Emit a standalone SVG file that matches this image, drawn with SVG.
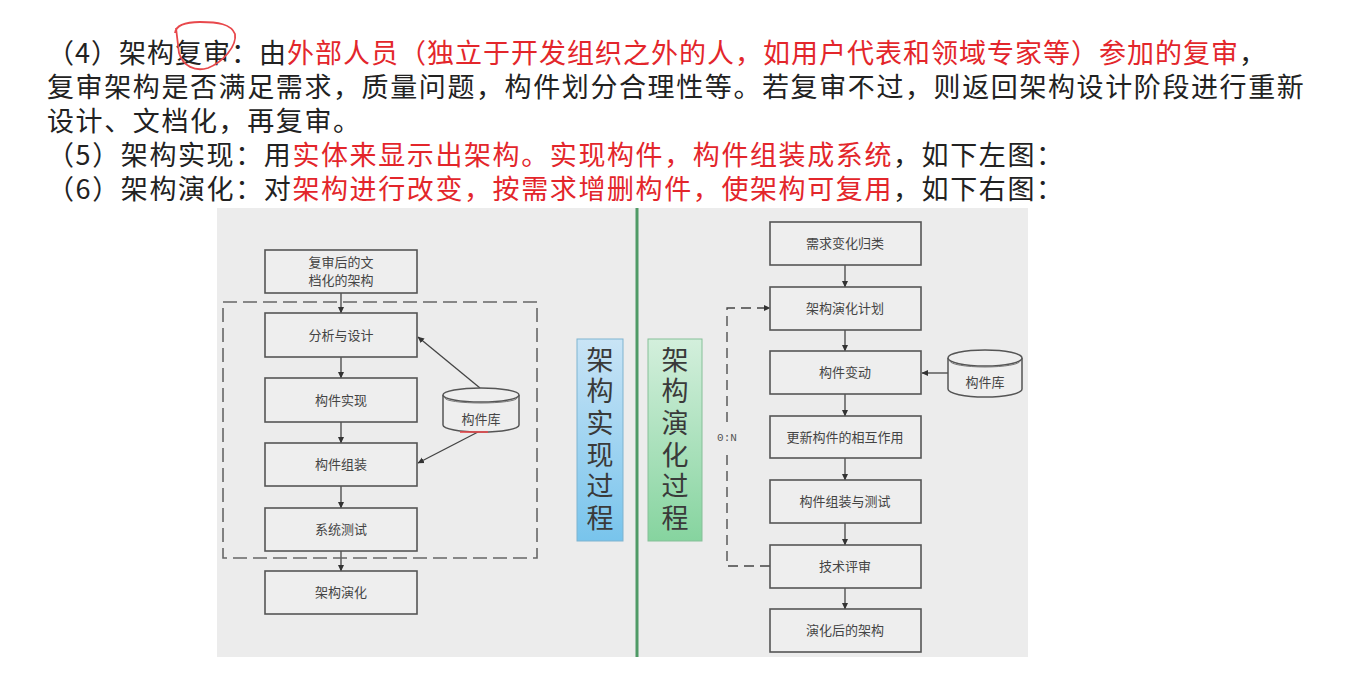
<svg xmlns="http://www.w3.org/2000/svg" width="1361" height="675" viewBox="0 0 1361 675">
<style>
.t{font-family:"Noto Sans CJK SC","Noto Sans",sans-serif;font-size:27px;letter-spacing:1.6px;fill:#222}
.r{fill:#e3262b}
.box{fill:#eeeeee;stroke:#555;stroke-width:1.6}
.bt{font-family:"Noto Sans CJK SC","Noto Sans",sans-serif;font-size:13px;fill:#444;text-anchor:middle}
.ln{stroke:#444;stroke-width:1.3;fill:none}
.vt{font-family:"Noto Sans CJK SC","Noto Sans",sans-serif;font-size:27px;fill:#3a3a3a;writing-mode:vertical-rl;letter-spacing:4.6px}
.cyl{fill:#eeeeee;stroke:#555;stroke-width:1.5}
</style>
<defs>
<marker id="ah" markerWidth="7" markerHeight="7" refX="6" refY="3.5" orient="auto" markerUnits="userSpaceOnUse">
<path d="M0,0.5 L6.5,3.5 L0,6.5 Z" fill="#333"/>
</marker>
<linearGradient id="gb" x1="0" y1="0" x2="0" y2="1">
<stop offset="0" stop-color="#c9e4f6"/>
<stop offset="1" stop-color="#78c4ec"/>
</linearGradient>
<linearGradient id="gg" x1="0" y1="0" x2="0" y2="1">
<stop offset="0" stop-color="#d3efdc"/>
<stop offset="1" stop-color="#86d49f"/>
</linearGradient>
</defs>
<rect width="1361" height="675" fill="#ffffff"/>

<g id="text">
<text class="t" x="47" y="63" style="letter-spacing:1px">（4）架构复审：由<tspan class="r">外部人员（独立于开发组织之外的人，如用户代表和领域专家等）参加的复审</tspan>，</text>
<text class="t" x="47" y="97">复审架构是否满足需求，质量问题，构件划分合理性等。若复审不过，则返回架构设计阶段进行重新</text>
<text class="t" x="47" y="131">设计、文档化，再复审。</text>
<text class="t" x="47" y="165">（5）架构实现：用<tspan class="r">实体来显示出架构。实现构件，构件组装成系统</tspan>，如下左图：</text>
<text class="t" x="47" y="199">（6）架构演化：对<tspan class="r">架构进行改变，按需求增删构件，使架构可复用</tspan>，如下右图：</text>
<path d="M175,33 C176,25 186,22 200,22 C218,22 231,24 235,34 C237,46 223,62 208,68 C195,72 183,66 179,53 L176,28" fill="none" stroke="#e8484c" stroke-width="1.8"/>
</g>

<rect id="panel" x="217" y="208" width="811" height="449" fill="#ececec"/>
<line x1="637" y1="208" x2="637" y2="657" stroke="#4f9a66" stroke-width="3"/>

<g id="connectors">
<line class="ln" x1="341" y1="293" x2="341" y2="313" marker-end="url(#ah)"/>
<line class="ln" x1="341" y1="357" x2="341" y2="378" marker-end="url(#ah)"/>
<line class="ln" x1="341" y1="422" x2="341" y2="443" marker-end="url(#ah)"/>
<line class="ln" x1="341" y1="486" x2="341" y2="508" marker-end="url(#ah)"/>
<line class="ln" x1="341" y1="551" x2="341" y2="571" marker-end="url(#ah)"/>
<line class="ln" x1="480" y1="388" x2="418" y2="337" marker-end="url(#ah)"/>
<line class="ln" x1="478" y1="432" x2="418" y2="463" marker-end="url(#ah)"/>
<line class="ln" x1="845" y1="265" x2="845" y2="287" marker-end="url(#ah)"/>
<line class="ln" x1="845" y1="330" x2="845" y2="351" marker-end="url(#ah)"/>
<line class="ln" x1="845" y1="394" x2="845" y2="416" marker-end="url(#ah)"/>
<line class="ln" x1="845" y1="458" x2="845" y2="480" marker-end="url(#ah)"/>
<line class="ln" x1="845" y1="523" x2="845" y2="545" marker-end="url(#ah)"/>
<line class="ln" x1="845" y1="588" x2="845" y2="609" marker-end="url(#ah)"/>
<line class="ln" x1="948" y1="373" x2="922" y2="373" marker-end="url(#ah)"/>
<path class="ln" d="M770,566 L727,566 L727,450" stroke-dasharray="10 6"/>
<path class="ln" d="M727,422 L727,308 L770,308" stroke-dasharray="10 6" marker-end="url(#ah)"/>
<text x="727" y="441" font-family="Liberation Mono,monospace" font-size="11" fill="#555" text-anchor="middle">0:N</text>
</g>

<rect id="frame" x="223" y="302" width="314" height="256" fill="none" stroke="#666" stroke-width="1.6" stroke-dasharray="14 6"/>

<g id="n-doc"><rect class="box" x="265" y="250" width="152" height="43"/><text class="bt" x="341" y="267">复审后的文</text><text class="bt" x="341" y="285">档化的架构</text></g>
<g id="n-design"><rect class="box" x="265" y="313" width="152" height="44"/><text class="bt" x="341" y="340">分析与设计</text></g>
<g id="n-impl"><rect class="box" x="265" y="378" width="152" height="44"/><text class="bt" x="341" y="405">构件实现</text></g>
<g id="n-assemble"><rect class="box" x="265" y="443" width="152" height="43"/><text class="bt" x="341" y="469">构件组装</text></g>
<g id="n-test"><rect class="box" x="265" y="508" width="152" height="43"/><text class="bt" x="341" y="534">系统测试</text></g>
<g id="n-evolve"><rect class="box" x="265" y="571" width="152" height="43"/><text class="bt" x="341" y="597">架构演化</text></g>
<g id="n-lib-left">
<path class="cyl" d="M443,395 L443,425 A38,7 0 0 0 519,425 L519,395"/>
<ellipse class="cyl" cx="481" cy="395" rx="38" ry="7"/>
<path d="M445,398 A36,5 0 0 0 517,398" fill="none" stroke="#777" stroke-width="1"/>
<text class="bt" x="481" y="424">构件库</text>
<line x1="460" y1="432" x2="488" y2="432" stroke="#e8484c" stroke-width="1.6"/>
</g>

<g id="label-impl">
<rect x="577" y="339" width="46" height="202" fill="url(#gb)" stroke="#7fb3cf" stroke-width="1"/>
<text class="vt" x="600" y="346">架构实现过程</text>
</g>
<g id="label-evo">
<rect x="648" y="339" width="54" height="202" fill="url(#gg)" stroke="#86bf98" stroke-width="1"/>
<text class="vt" x="675" y="346">架构演化过程</text>
</g>

<g id="n-req"><rect class="box" x="770" y="222" width="151" height="43"/><text class="bt" x="845" y="248">需求变化归类</text></g>
<g id="n-plan"><rect class="box" x="770" y="287" width="151" height="43"/><text class="bt" x="845" y="313">架构演化计划</text></g>
<g id="n-change"><rect class="box" x="770" y="351" width="151" height="43"/><text class="bt" x="845" y="377">构件变动</text></g>
<g id="n-update"><rect class="box" x="770" y="416" width="151" height="42"/><text class="bt" x="845" y="442">更新构件的相互作用</text></g>
<g id="n-asmtest"><rect class="box" x="770" y="480" width="151" height="43"/><text class="bt" x="845" y="506">构件组装与测试</text></g>
<g id="n-review"><rect class="box" x="770" y="545" width="151" height="43"/><text class="bt" x="845" y="571">技术评审</text></g>
<g id="n-after"><rect class="box" x="770" y="609" width="151" height="43"/><text class="bt" x="845" y="635">演化后的架构</text></g>
<g id="n-lib-right">
<path class="cyl" d="M948,358 L948,389 A37,8 0 0 0 1022,389 L1022,358"/>
<ellipse class="cyl" cx="985" cy="358" rx="37" ry="8"/>
<path d="M950,361 A35,6 0 0 0 1020,361" fill="none" stroke="#777" stroke-width="1"/>
<text class="bt" x="985" y="387">构件库</text>
</g>
</svg>
